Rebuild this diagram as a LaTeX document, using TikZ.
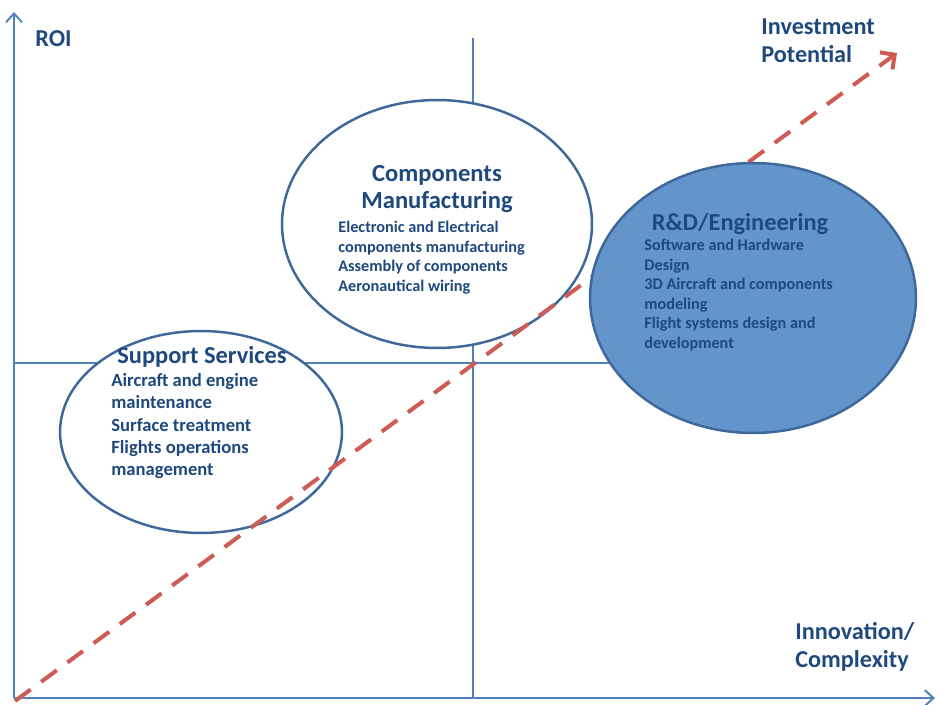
\documentclass[tikz,border=0pt]{standalone}
\usepackage{fontspec}
\setmainfont{Carlito}
\usetikzlibrary{arrows.meta,shapes.geometric}
\definecolor{axisblue}{RGB}{79,129,189}
\definecolor{txtblue}{RGB}{31,73,125}
\definecolor{rimblue}{RGB}{61,104,153}
\definecolor{rdfill}{RGB}{99,148,203}
\definecolor{dashred}{RGB}{205,92,85}

\begin{document}
\begin{tikzpicture}[
  x=0.02cm, y=-0.02cm,
  axis/.style={draw=axisblue, line width=1.1pt},
  area/.style={ellipse, draw=rimblue, line width=1.4pt, fill=white, inner sep=0pt},
  head/.style={text=txtblue, font=\bfseries\fontsize{13.9}{15.4}\selectfont, align=center, inner sep=0pt, anchor=north},
  body/.style={text=txtblue, font=\bfseries\fontsize{9.25}{11.1}\selectfont, align=left, inner sep=0pt, anchor=north west},
  corner/.style={text=txtblue, font=\bfseries\fontsize{13.8}{16}\selectfont, align=left, inner sep=0pt, anchor=north west}
]
\useasboundingbox (0,0) rectangle (937,705);

% axes
\coordinate (origin) at (14,698);
\coordinate (ytop) at (14,12);
\coordinate (xend) at (935,698);
\draw[axis, -{Straight Barb[length=5pt,width=9pt]}] (origin) -- (ytop);
\draw[axis, -{Straight Barb[length=5pt,width=9pt]}] (origin) -- (xend);

% quadrants
\coordinate (midtop) at (473,38);
\coordinate (midbot) at (473,698);
\coordinate (midleft) at (14,363);
\coordinate (midright) at (700,363);
\draw[axis, line width=0.8pt] (midtop) -- (midbot);
\draw[axis, line width=0.8pt] (midleft) -- (midright);

% sectors
\node[area, minimum width=5.64cm, minimum height=4.04cm] (support) at (201,432) {};
\node[area, minimum width=6.2cm, minimum height=4.96cm] (manuf) at (437,224) {};

% trend
\coordinate (trendstart) at (15,701);
\coordinate (trendend) at (897,53);
\draw[dashred, line width=2.3pt, dash pattern=on 11pt off 7.5pt,
  -{Straight Barb[length=6pt,width=12pt,line width=2.3pt]}] (trendstart) -- (trendend);

\node[area, fill=rdfill, minimum width=6.52cm, minimum height=5.4cm] (rnd) at (753,298) {};

% labels
\node[corner] (roi) at (35,30) {ROI};
\node[corner] (invest) at (761,18) {Investment\\Potential};
\node[corner] (innov) at (795,622) {Innovation/\\Complexity};

\node[head] (supporthead) at (202,346) {Support Services};
\node[body, font=\bfseries\fontsize{10.6}{12.7}\selectfont] (supportbody) at (111,373)
  {Aircraft and engine\\maintenance\\Surface treatment\\Flights operations\\management};

\node[head, font=\bfseries\fontsize{14}{15.4}\selectfont] (manufhead) at (437,165) {Components\\Manufacturing};
\node[body] (manufbody) at (338,221)
  {Electronic and Electrical\\components manufacturing\\Assembly of components\\Aeronautical wiring};

\node[head] (rndhead) at (740,213) {R\&D/Engineering};
\node[body] (rndbody) at (644,239)
  {Software and Hardware\\Design\\3D Aircraft and components\\modeling\\Flight systems design and\\development};
\end{tikzpicture}
\end{document}
